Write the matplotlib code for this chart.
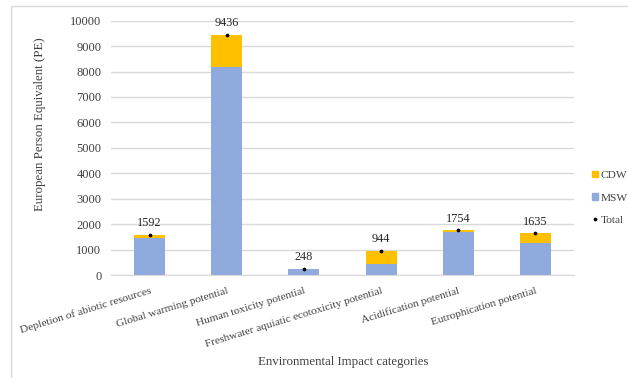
import matplotlib
matplotlib.use("Agg")
import matplotlib.pyplot as plt
from matplotlib.patches import Rectangle
from matplotlib.lines import Line2D
import numpy as np

plt.rcParams['font.family'] = ['Liberation Serif', 'DejaVu Serif']

categories = ["Depletion of abiotic resources", "Global warming potential",
              "Human toxicity potential", "Freshwater aquiatic ecotoxicity potential",
              "Acidification potential", "Eutrophication potential"]
msw = [1470, 8160, 220, 430, 1710, 1270]
cdw = [122, 1276, 28, 514, 44, 365]
total = [1592, 9436, 248, 944, 1754, 1635]
yticks = list(range(0, 10001, 1000))

W, H = 628, 378
fig = plt.figure(figsize=(W/100, H/100), dpi=100)
ax = fig.add_axes([111/W, 1-275/H, (574-111)/W, (275-20.7)/H])

x = np.arange(len(categories))
ax.bar(x, msw, width=0.4, color='#8faadc', zorder=2, label='MSW')
ax.bar(x, cdw, width=0.4, bottom=msw, color='#ffc000', zorder=2, label='CDW')
ax.plot(x, total, linestyle='none', marker='o', markersize=1.7, color='black', zorder=3, label='Total')
for xi, t in zip(x, total):
    ax.annotate(str(t), (xi, t), xytext=(0, 4), textcoords='offset points',
                ha='center', va='bottom', fontsize=8.8, color='#262626')

ax.set_xlim(-0.5, len(categories) - 0.5)
ax.set_ylim(0, 10000)
ax.set_yticks(yticks)
ax.set_yticklabels([str(v) for v in yticks], fontsize=9, color='#404040')
ax.yaxis.grid(True, color='#d9d9d9', linewidth=1, zorder=0)
ax.set_axisbelow(True)
for s in ['top', 'right', 'left']:
    ax.spines[s].set_visible(False)
ax.spines['bottom'].set_color('#d9d9d9')
ax.tick_params(axis='both', length=0, pad=7)
ax.set_xticks(x)
ax.set_xticklabels(categories, rotation=17, ha='right', rotation_mode='anchor',
                   fontsize=8.2, color='#404040')
ax.tick_params(axis='x', pad=8)

fig.text(40/W, 1-124/H, "European Person Equivalent (PE)", rotation=90,
         ha='center', va='center', fontsize=9.3, color='#404040')
fig.text(343/W, 1-362/H, "Environmental Impact categories",
         ha='center', va='center', fontsize=9.3, color='#404040')

handles = [Rectangle((0, 0), 1, 1, color='#ffc000'),
           Rectangle((0, 0), 1, 1, color='#8faadc'),
           Line2D([], [], linestyle='none', marker='o', markersize=1.7, color='black')]
leg = fig.legend(handles, ['CDW', 'MSW', 'Total'], loc='upper left',
                 bbox_to_anchor=(592/W, 1-171/H), frameon=False, fontsize=8.2,
                 handlelength=0.5, handleheight=0.5, handletextpad=0.25,
                 labelspacing=1.15, borderpad=0, borderaxespad=0)
for t in leg.get_texts():
    t.set_color('#404040')

fig.patches.append(Rectangle((11/W, -0.1), 1.0, 1-6/H+0.1, transform=fig.transFigure,
                             fill=False, edgecolor='#d9d9d9', linewidth=1))

fig.savefig('out.png', dpi=100)
